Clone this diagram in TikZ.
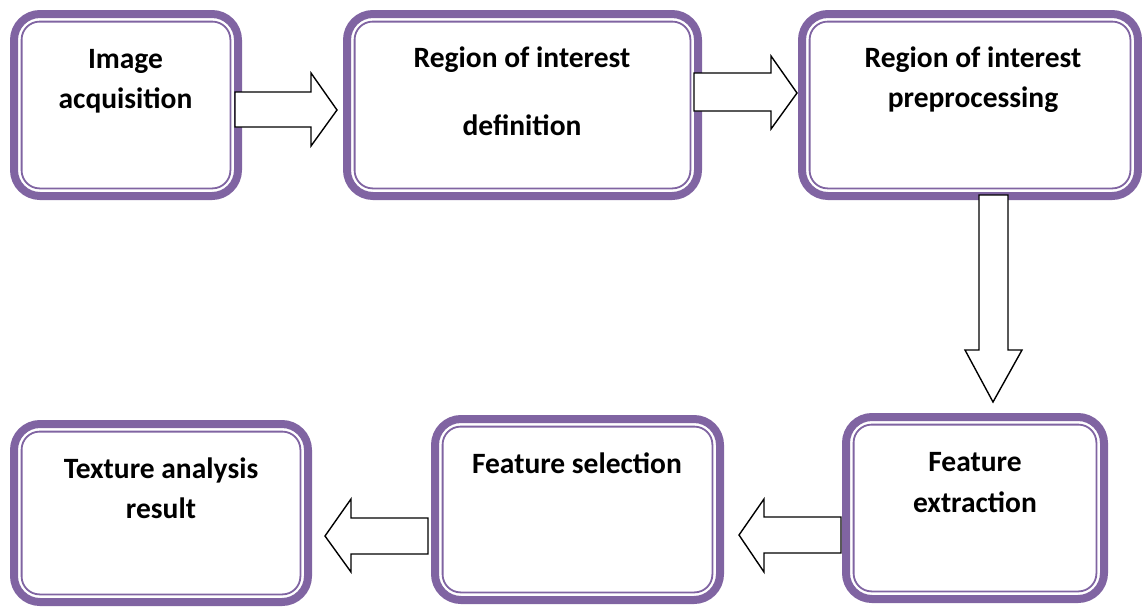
\documentclass[tikz,border=0pt]{standalone}
\usepackage{fontspec}
\setmainfont{Carlito}
\definecolor{boxpurple}{HTML}{8064A2}
\begin{document}
\begin{tikzpicture}[x=1pt,y=-1pt,
  box/.style 2 args={draw=boxpurple, line width=8pt, rounded corners=26pt, fill=white,
    inner sep=0pt, minimum width=#1pt, minimum height=#2pt,
    path picture={\draw[boxpurple, line width=1.8pt, rounded corners=18pt]
      ([shift={(7.6pt,-7.6pt)}]path picture bounding box.north west) rectangle
      ([shift={(-7.6pt,7.6pt)}]path picture bounding box.south east);}},
  lbl/.style={anchor=base, inner sep=0pt, font=\fontsize{29.5}{33}\selectfont\bfseries},
  blockarrow/.style={draw=black, line width=1.4pt, fill=white, line join=miter}]
\useasboundingbox (0,0) rectangle (1142,606);
% boxes
\node[box={224}{182}] (b1) at (126,105) {};
\node[box={351}{182}] (b2) at (522.5,105) {};
\node[box={336}{182}] (b3) at (970,105) {};
\node[box={258}{182}] (b4) at (975,508) {};
\node[box={285}{181}] (b5) at (577.5,509.5) {};
\node[box={294}{178}] (b6) at (161,513) {};
% texts
\node[lbl] (t1a) at (125.5,68) {Image};
\node[lbl] (t1b) at (125.5,108) {acquisition};
\node[lbl] (t2a) at (522,67) {Region of interest};
\node[lbl] (t2b) at (522,135) {definition};
\node[lbl] (t3a) at (973,67) {Region of interest};
\node[lbl] (t3b) at (973,107) {preprocessing};
\node[lbl] (t4a) at (975,471) {Feature};
\node[lbl] (t4b) at (975,512) {extraction};
\node[lbl] (t5a) at (577,473) {Feature selection};
\node[lbl] (t6a) at (161,478) {Texture analysis};
\node[lbl] (t6b) at (161,518) {result};
% block arrows
\draw[blockarrow] (235,92) -- (311,92) -- (311,73) -- (337,110) -- (311,146) -- (311,127) -- (235,127) -- cycle;
\draw[blockarrow] (694,73) -- (771,73) -- (771,56) -- (797,93) -- (771,129) -- (771,111) -- (694,111) -- cycle;
\draw[blockarrow] (979,195) -- (1008,195) -- (1008,350) -- (1022,350) -- (993,402) -- (965,350) -- (979,350) -- cycle;
\draw[blockarrow] (841,517) -- (764,517) -- (764,499) -- (739,535) -- (764,572) -- (764,553) -- (841,553) -- cycle;
\draw[blockarrow] (428,518) -- (351,518) -- (351,499) -- (325,536) -- (351,572) -- (351,554) -- (428,554) -- cycle;
\end{tikzpicture}
\end{document}
